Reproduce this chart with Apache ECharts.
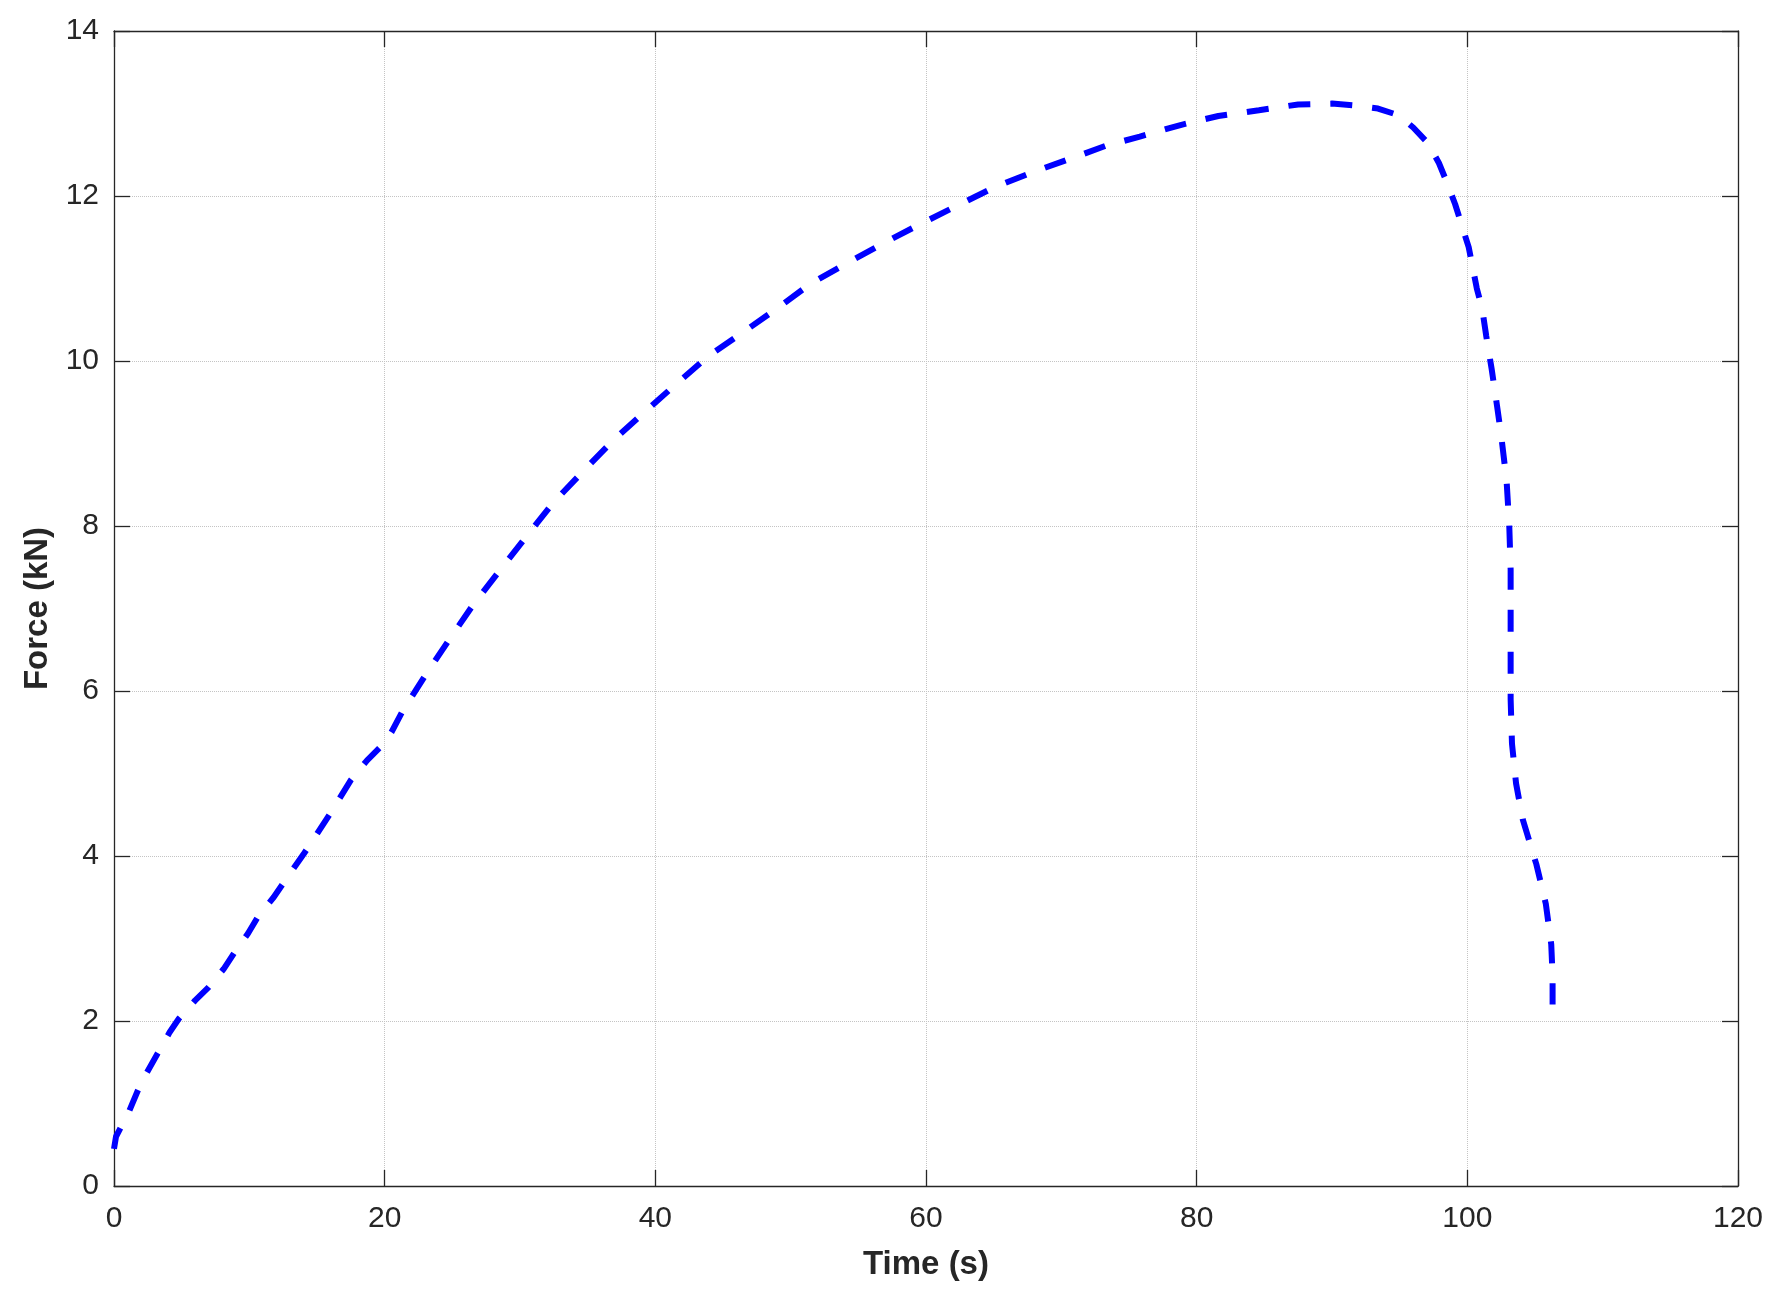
<!DOCTYPE html>
<html>
<head>
<meta charset="utf-8">
<script src="https://cdn.jsdelivr.net/npm/echarts@6/dist/echarts.min.js"></script>
<style>
  html, body { margin: 0; padding: 0; background: #fff; }
  #force-chart { width: 1792px; height: 1298px; }
</style>
</head>
<body>
<div id="force-chart"></div>
<script>
// time (s) and force (kN)
const timeValues = [
  0, 0.15, 1.1, 2.0, 3.2, 4.1, 4.8, 6.0, 7.0, 8.1, 8.9, 9.9, 10.7, 11.8, 12.8,
  14.0, 15.0, 16.0, 17.5, 18.7, 19.8, 20.5, 21.3, 23.0, 24.8, 26.6, 28.6, 30.6,
  32.5, 34.7, 36.9, 39.2, 41.6, 44.0, 46.5, 49.1, 51.5, 54.3, 57.0, 59.7, 62.4,
  65.1, 67.9, 70.8, 73.3, 75.8, 78.8, 81.6, 84.6, 87.5, 90.0, 91.5, 93.4, 94.9,
  96.0, 97.1, 97.9, 98.5, 99.1, 99.6, 100.1, 100.7, 101.1, 101.4, 101.8, 102.2,
  102.5, 102.9, 103.1, 103.2, 103.2, 103.2, 103.2, 103.3, 103.6, 104.1, 105.1,
  105.8, 106.2, 106.3, 106.3
];
const forceValues = [
  0.45, 0.6, 0.9, 1.25, 1.6, 1.86, 2.03, 2.25, 2.41, 2.63, 2.83, 3.06, 3.28, 3.5, 3.74,
  4.02, 4.27, 4.52, 4.92, 5.16, 5.34, 5.5, 5.75, 6.19, 6.63, 7.06, 7.48, 7.9,
  8.29, 8.67, 9.04, 9.38, 9.73, 10.07, 10.35, 10.65, 10.94, 11.2, 11.44, 11.67, 11.89,
  12.11, 12.29, 12.46, 12.61, 12.72, 12.86, 12.97, 13.04, 13.11, 13.12, 13.1, 13.06, 12.98,
  12.83, 12.64, 12.4, 12.16, 11.9, 11.64, 11.38, 10.88, 10.63, 10.3, 9.9, 9.45,
  9.1, 8.55, 8.0, 7.47, 6.88, 6.34, 5.9, 5.36, 4.88, 4.44, 3.9,
  3.42, 2.93, 2.55, 2.2
];
const xTicks = [0, 20, 40, 60, 80, 100, 120];
const yTicks = [0, 2, 4, 6, 8, 10, 12, 14];

const textColor = '#262626';
const fontName = '"Liberation Sans", Arial, Helvetica, sans-serif';

let forceChart = echarts.init(document.getElementById('force-chart'));

function boxAxis(pos, min, max, step, withLabels) {
  return {
    type: 'value',
    position: pos,
    min: min,
    max: max,
    interval: step,
    axisLine: { show: true, onZero: false, lineStyle: { color: textColor, width: 1.3 } },
    axisTick: { show: true, inside: true, length: 16, lineStyle: { color: textColor, width: 1.3 } },
    axisLabel: {
      show: withLabels,
      color: textColor,
      fontFamily: fontName,
      fontSize: 30
    },
    splitLine: {
      show: withLabels,
      lineStyle: { color: '#c4c4c4', type: 'dotted', width: 1 }
    }
  };
}

let xBottom = boxAxis('bottom', xTicks[0], xTicks[xTicks.length - 1], xTicks[1] - xTicks[0], true);
xBottom.axisLabel.margin = 18;
xBottom.name = 'Time (s)';
xBottom.nameLocation = 'middle';
xBottom.nameGap = 62;
xBottom.nameTextStyle = { color: textColor, fontFamily: fontName, fontSize: 33, fontWeight: 'bold' };

let yLeft = boxAxis('left', yTicks[0], yTicks[yTicks.length - 1], yTicks[1] - yTicks[0], true);
yLeft.axisLabel.margin = 15;
yLeft.name = 'Force (kN)';
yLeft.nameLocation = 'middle';
yLeft.nameGap = 58;
yLeft.nameTextStyle = { color: textColor, fontFamily: fontName, fontSize: 33, fontWeight: 'bold' };

let option = {
  backgroundColor: '#ffffff',
  animation: false,
  grid: {
    left: 114,
    right: 54,
    top: 31,
    bottom: 112
  },
  xAxis: [
    xBottom,
    boxAxis('top', xTicks[0], xTicks[xTicks.length - 1], xTicks[1] - xTicks[0], false)
  ],
  yAxis: [
    yLeft,
    boxAxis('right', yTicks[0], yTicks[yTicks.length - 1], yTicks[1] - yTicks[0], false)
  ],
  series: [
    {
      name: 'Force',
      type: 'line',
      xAxisIndex: 0,
      yAxisIndex: 0,
      showSymbol: false,
      symbol: 'none',
      data: timeValues.map((t, i) => [t, forceValues[i]]),
      lineStyle: {
        color: '#0000ff',
        width: 6,
        type: [22, 20],
        cap: 'butt'
      }
    }
  ]
};
forceChart.setOption(option);
</script>
</body>
</html>
